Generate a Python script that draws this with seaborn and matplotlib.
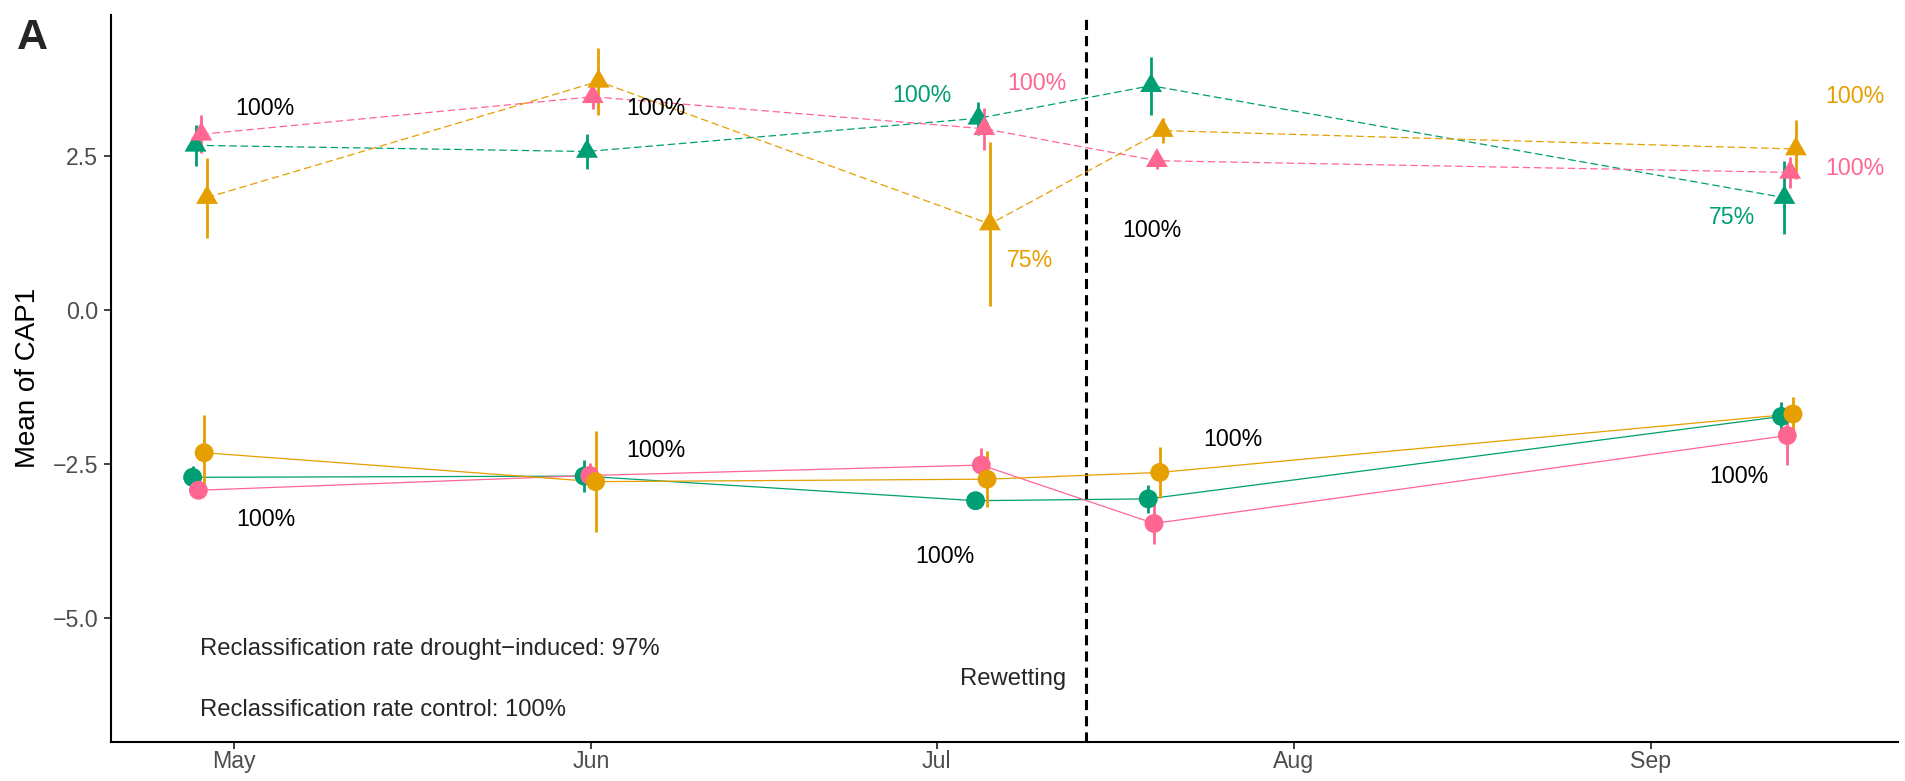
import numpy as np
import pandas as pd
import matplotlib
matplotlib.use("Agg")
import matplotlib.pyplot as plt
import matplotlib.dates as mdates
from matplotlib.path import Path
from matplotlib.ticker import FuncFormatter
import seaborn as sns

# ---------------------------------------------------------------- data
sampling_dates = ["2021-04-28", "2021-06-01", "2021-07-05", "2021-07-20", "2021-09-13"]
groups = ["green", "pink", "orange"]
treatments = ["control", "drought"]

# mean CAP1 scores and half-widths of the error bars
drought_green_mean = [2.68, 2.58, 3.12, 3.65, 1.83]
drought_green_err = [0.33, 0.28, 0.27, 0.47, 0.60]
drought_pink_mean = [2.86, 3.47, 2.95, 2.43, 2.24]
drought_pink_err = [0.31, 0.20, 0.34, 0.14, 0.25]
drought_orange_mean = [1.83, 3.72, 1.40, 2.92, 2.62]
drought_orange_err = [0.65, 0.54, 1.33, 0.20, 0.48]

control_green_mean = [-2.72, -2.70, -3.10, -3.07, -1.73]
control_green_err = [0.19, 0.26, 0.08, 0.23, 0.24]
control_pink_mean = [-2.93, -2.69, -2.52, -3.47, -2.04]
control_pink_err = [0.10, 0.20, 0.27, 0.34, 0.48]
control_orange_mean = [-2.32, -2.79, -2.75, -2.64, -1.69]
control_orange_err = [0.61, 0.82, 0.46, 0.41, 0.28]

# per-sampling reclassification percentages
pct_text = ["100%", "100%", "100%", "100%", "75%", "100%", "100%", "100%", "75%",
            "100%", "100%", "100%", "100%", "100%"]
pct_group = ["all", "all", "green", "pink", "orange", "all", "orange", "pink", "green",
             "all", "all", "all", "all", "all"]
pct_x = ["2021-05-03 16:00", "2021-06-06 14:00", "2021-06-29 17:00", "2021-07-09 17:00",
         "2021-07-09 02:00", "2021-07-19 17:00", "2021-09-18 17:00", "2021-09-18 17:00",
         "2021-09-08 02:00",
         "2021-05-03 18:00", "2021-06-06 14:00", "2021-07-01 17:00", "2021-07-26 17:00",
         "2021-09-08 17:00"]
pct_y = [3.28, 3.28, 3.49, 3.68, 0.81, 1.29, 3.48, 2.30, 1.50,
         -3.41, -2.29, -4.00, -2.11, -2.71]

rewetting_date = "2021-07-14"
rate_drought = "Reclassification rate drought\u2212induced: 97%"
rate_control = "Reclassification rate control: 100%"

# ---------------------------------------------------------------- table
series = {
    ("green", "control"): (control_green_mean, control_green_err),
    ("green", "drought"): (drought_green_mean, drought_green_err),
    ("pink", "control"): (control_pink_mean, control_pink_err),
    ("pink", "drought"): (drought_pink_mean, drought_pink_err),
    ("orange", "control"): (control_orange_mean, control_orange_err),
    ("orange", "drought"): (drought_orange_mean, drought_orange_err),
}
dodge_step = pd.Timedelta(hours=6)
rows = []
for k, ((grp, trt), (means, errs)) in enumerate(series.items()):
    offset = (k - 2.5) * dodge_step
    for d, m, e in zip(sampling_dates, means, errs):
        rows.append({"date": pd.Timestamp(d) + offset, "group": grp, "treatment": trt,
                     "mean": m, "lo": m - e, "hi": m + e})
df = pd.DataFrame(rows)

palette = {"green": "#009E73", "pink": "#FF6692", "orange": "#E69F00"}
text_colours = dict(palette, all="black")

# ---------------------------------------------------------------- plot
sns.set_theme(style="ticks")
plt.rcParams["font.family"] = ["Liberation Sans", "DejaVu Sans"]

fig = plt.figure(figsize=(19.05, 7.81), dpi=100)
ax = fig.add_axes([0.05806, 0.0503, 0.9383, 0.9305])

sns.lineplot(data=df, x="date", y="mean", hue="group", style="treatment",
             palette=palette, dashes={"control": "", "drought": (6, 3)},
             estimator=None, sort=True, linewidth=0.9, legend=False, ax=ax, zorder=2)

for grp in groups:
    sub = df[df["group"] == grp]
    ax.vlines(sub["date"], sub["lo"], sub["hi"], colors=palette[grp],
              linewidth=2.0, zorder=3)

# equilateral triangle centred on its centroid
triangle = Path([(0, 1), (-0.866, -0.5), (0.866, -0.5), (0, 1)],
                [Path.MOVETO, Path.LINETO, Path.LINETO, Path.CLOSEPOLY])
for grp in groups:
    sns.scatterplot(data=df[df["group"] == grp], x="date", y="mean",
                    color=palette[grp], style="treatment", size="treatment",
                    markers={"control": "o", "drought": triangle},
                    sizes={"control": 185, "drought": 330},
                    edgecolor="none", linewidth=0, legend=False, ax=ax, zorder=4)

ax.axvline(pd.Timestamp(rewetting_date), color="black", linewidth=2.2,
           dashes=(3.3, 2.0), zorder=1)

for t, g, x, y in zip(pct_text, pct_group, pct_x, pct_y):
    ax.text(mdates.date2num(pd.Timestamp(x)), y, t, color=text_colours[g],
            fontsize=16.7, ha="center", va="center")

first = mdates.date2num(pd.Timestamp(sampling_dates[0]))
ax.text(first, -5.52, rate_drought, fontsize=17.2, ha="left", va="center")
ax.text(first, -6.50, rate_control, fontsize=17.2, ha="left", va="center")
ax.text(mdates.date2num(pd.Timestamp(rewetting_date) - pd.Timedelta(hours=42)), -6.0,
        "Rewetting", fontsize=17.2, ha="right", va="center")

# ---------------------------------------------------------------- axes
ax.set_xlim(pd.Timestamp("2021-04-20 06:00"), pd.Timestamp("2021-09-22 12:00"))
ax.set_ylim(-7.02, 4.80)
ax.xaxis.set_major_locator(mdates.MonthLocator(bymonth=[5, 6, 7, 8, 9]))
ax.xaxis.set_major_formatter(mdates.DateFormatter("%b"))
ax.set_yticks([-5.0, -2.5, 0.0, 2.5])
ax.yaxis.set_major_formatter(FuncFormatter(lambda v, _: f"{v:.1f}".replace("-", "\u2212")))

ax.set_xlabel("")
ax.set_ylabel("Mean of CAP1", fontsize=20, color="black", va="center")
ax.yaxis.set_label_coords(-0.046, 0.5)

for side in ("top", "right"):
    ax.spines[side].set_visible(False)
for side in ("left", "bottom"):
    ax.spines[side].set_color("black")
    ax.spines[side].set_linewidth(1.5)
ax.tick_params(axis="both", colors="#333333", labelcolor="#4D4D4D",
               labelsize=16.7, length=5, width=1.3)
ax.tick_params(axis="x", pad=1)
ax.tick_params(axis="y", pad=4)

fig.text(17 / 1905, 1 - 49.3 / 781, "A", fontsize=31, fontweight="bold",
         ha="left", va="baseline")

fig.savefig("out.png", dpi=100)
